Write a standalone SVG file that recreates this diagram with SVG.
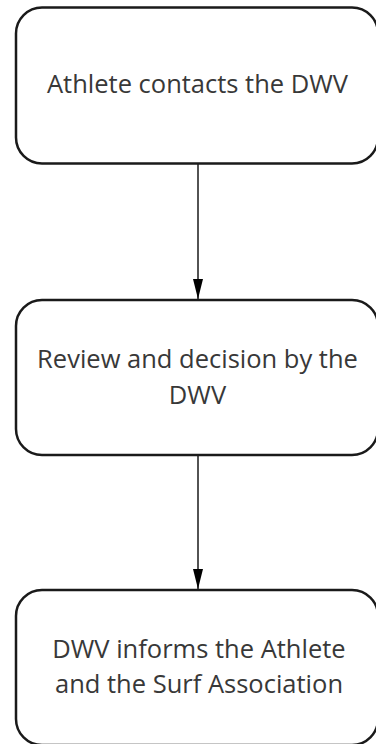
<svg xmlns="http://www.w3.org/2000/svg" width="376" height="744" viewBox="0 0 376 744">
  <defs>
    <style>
      .box { fill: #ffffff; stroke: #1a1a1a; stroke-width: 2.5; }
      .lbl { font-family: "Open Sans", "Noto Sans", sans-serif; font-size: 25.5px; fill: #383838; text-anchor: middle; }
      .edge { stroke: #1a1a1a; stroke-width: 1.5; fill: none; }
    </style>
    <marker id="arr" viewBox="0 0 20 10" refX="20" refY="5" markerWidth="20" markerHeight="10" markerUnits="userSpaceOnUse" orient="auto">
      <path d="M0,0 L20,5 L0,10 Z" fill="#000000"/>
    </marker>
  </defs>
  <rect width="376" height="744" fill="#ffffff"/>
  <g id="edges">
    <line class="edge" x1="198" y1="164" x2="198" y2="299" marker-end="url(#arr)"/>
    <line class="edge" x1="198" y1="456" x2="198" y2="589" marker-end="url(#arr)"/>
  </g>
  <g id="node1">
    <rect class="box" x="16" y="7.5" width="362" height="156" rx="26" ry="26"/>
    <text class="lbl" x="197.5" y="93">Athlete contacts the DWV</text>
  </g>
  <g id="node2">
    <rect class="box" x="16" y="300" width="362" height="155" rx="26" ry="26"/>
    <text class="lbl" x="197.5" y="368">Review and decision by the</text>
    <text class="lbl" x="197.5" y="404">DWV</text>
  </g>
  <g id="node3">
    <rect class="box" x="16" y="590" width="362" height="155" rx="26" ry="26"/>
    <text class="lbl" x="199" y="658">DWV informs the Athlete</text>
    <text class="lbl" x="199" y="693">and the Surf Association</text>
  </g>
</svg>
